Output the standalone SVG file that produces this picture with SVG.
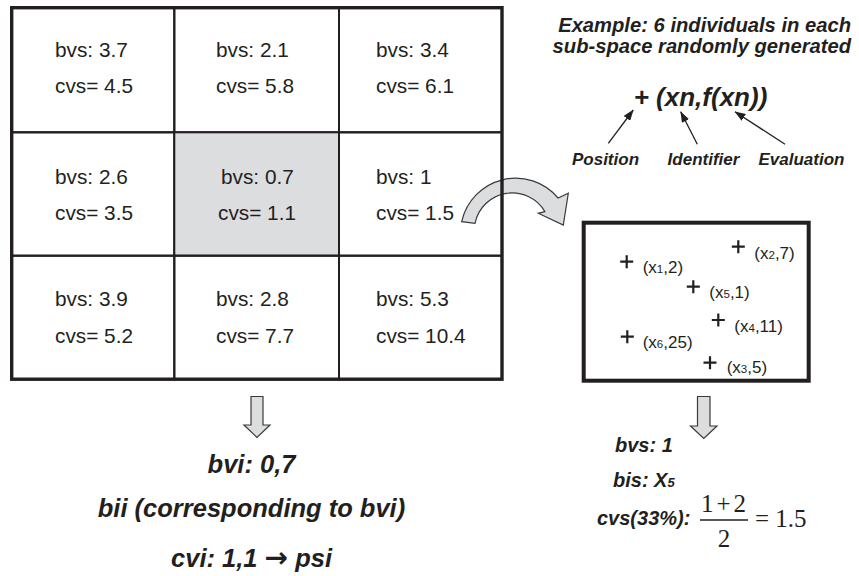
<svg xmlns="http://www.w3.org/2000/svg" width="859" height="576" viewBox="0 0 859 576">
<style>
text{font-family:"Liberation Sans",Arial,Helvetica,sans-serif;fill:#231f20}
.cv{font-size:20.8px}
.bi{font-weight:bold;font-style:italic}
.cell{fill:none;stroke:#231f20;stroke-width:2}
.gray{fill:#dcdddf}
.thin{fill:none;stroke:#231f20;stroke-width:1.3}
.blk{fill:#dcdddf;stroke:#3a3a3a;stroke-width:1.2;stroke-linejoin:miter}
.pl{fill:none;stroke:#231f20;stroke-width:2.2}
.pt{font-size:17px}
.serif{font-family:"Liberation Serif","Times New Roman",serif;font-size:25px}
</style>
<defs>
<marker id="ah" markerUnits="userSpaceOnUse" markerWidth="11" markerHeight="8" refX="10.5" refY="4" orient="auto">
<path d="M0,0 L11,4 L0,8 z" fill="#231f20"/>
</marker>
<path id="plus" d="M-6.5,0 H6.5 M0,-6.5 V6.5" class="pl"/>
</defs>
<rect width="859" height="576" fill="#fff"/>

<g id="connectors">
<path id="curved-arrow" class="blk" d="M461.7,221.7 A55.2,55.2 0 0 1 558,198 L568.3,193.3 L563.3,225 L538.3,213.3 L545,211.7 A38,38 0 0 0 475,223.3 Z"/>
<path id="down-left" class="blk" d="M251,396.5 H263 V425 H270 L257,437.5 L244,425 H251 Z"/>
<path id="down-right" class="blk" d="M697.5,396.5 H710 V426 H717 L703.8,438.5 L690.5,426 H697.5 Z"/>
<line class="thin" x1="608.3" y1="143.3" x2="633.3" y2="110" marker-end="url(#ah)"/>
<line class="thin" x1="697.3" y1="144.3" x2="680.7" y2="111.7" marker-end="url(#ah)"/>
<line class="thin" x1="785" y1="144.3" x2="735" y2="111.7" marker-end="url(#ah)"/>
</g>

<g id="grid">
<g id="cell-1-1"><rect class="cell" x="11.7" y="7.7" width="162.6" height="124.6"/><text class="cv" x="55" y="57">bvs: 3.7</text><text class="cv" x="55" y="93.3">cvs= 4.5</text></g>
<g id="cell-1-2"><rect class="cell" x="174.3" y="7.7" width="164.7" height="124.6"/><text class="cv" x="216" y="57">bvs: 2.1</text><text class="cv" x="216" y="93.3">cvs= 5.8</text></g>
<g id="cell-1-3"><rect class="cell" x="339" y="7.7" width="163" height="124.6"/><text class="cv" x="376" y="57">bvs: 3.4</text><text class="cv" x="376" y="93.3">cvs= 6.1</text></g>
<g id="cell-2-1"><rect class="cell" x="11.7" y="132.3" width="162.6" height="123.4"/><text class="cv" x="55" y="183.5">bvs: 2.6</text><text class="cv" x="55" y="220">cvs= 3.5</text></g>
<g id="cell-2-2"><rect class="cell gray" x="174.3" y="132.3" width="164.7" height="123.4"/><text class="cv" x="221" y="183.5">bvs: 0.7</text><text class="cv" x="218" y="220">cvs= 1.1</text></g>
<g id="cell-2-3"><rect class="cell" x="339" y="132.3" width="163" height="123.4"/><text class="cv" x="376" y="183.5">bvs: 1</text><text class="cv" x="376" y="220">cvs= 1.5</text></g>
<g id="cell-3-1"><rect class="cell" x="11.7" y="255.7" width="162.6" height="123.5"/><text class="cv" x="55" y="306">bvs: 3.9</text><text class="cv" x="55" y="343.3">cvs= 5.2</text></g>
<g id="cell-3-2"><rect class="cell" x="174.3" y="255.7" width="164.7" height="123.5"/><text class="cv" x="216" y="306">bvs: 2.8</text><text class="cv" x="216" y="343.3">cvs= 7.7</text></g>
<g id="cell-3-3"><rect class="cell" x="339" y="255.7" width="163" height="123.5"/><text class="cv" x="376" y="306">bvs: 5.3</text><text class="cv" x="376" y="343.3">cvs= 10.4</text></g>
<rect x="11.7" y="7.7" width="490.3" height="371.5" fill="none" stroke="#231f20" stroke-width="3.4"/>
</g>

<g id="legend">
<text class="bi" x="851" y="31.7" font-size="20.2" text-anchor="end">Example: 6 individuals in each</text>
<text class="bi" x="851" y="53.3" font-size="20.2" text-anchor="end">sub-space randomly generated</text>
<text class="bi" x="700.5" y="106" font-size="26" text-anchor="middle">+ (xn,f(xn))</text>
<text class="bi" x="605.5" y="165" font-size="17" text-anchor="middle">Position</text>
<text class="bi" x="703.5" y="165" font-size="17" text-anchor="middle">Identifier</text>
<text class="bi" x="801.5" y="165" font-size="17" text-anchor="middle">Evaluation</text>
</g>

<g id="sample-box">
<rect x="583.7" y="222.7" width="225" height="158" fill="none" stroke="#231f20" stroke-width="4"/>
<use href="#plus" x="626.7" y="261.7"/><text class="pt" x="642.7" y="272.7">(x<tspan font-size="11.5">1</tspan>,2)</text>
<use href="#plus" x="738.3" y="246.7"/><text class="pt" x="754.3" y="258.7">(x<tspan font-size="11.5">2</tspan>,7)</text>
<use href="#plus" x="693.3" y="286.7"/><text class="pt" x="709.3" y="298">(x<tspan font-size="11.5">5</tspan>,1)</text>
<use href="#plus" x="718.3" y="320"/><text class="pt" x="734.3" y="331.7">(x<tspan font-size="11.5">4</tspan>,11)</text>
<use href="#plus" x="627.3" y="336.7"/><text class="pt" x="642.7" y="347.7">(x<tspan font-size="11.5">6</tspan>,25)</text>
<use href="#plus" x="710" y="362.7"/><text class="pt" x="726.7" y="372.7">(x<tspan font-size="11.5">3</tspan>,5)</text>
</g>

<g id="result-right">
<text class="bi" x="615" y="451.7" font-size="20">bvs: 1</text>
<text class="bi" x="613" y="487.3" font-size="20">bis: X<tspan font-size="13">5</tspan></text>
<text class="bi" x="597" y="525" font-size="20">cvs(33%):</text>
<text class="serif" x="701" y="511.7" letter-spacing="3">1+2</text>
<line x1="700" y1="520" x2="748" y2="520" stroke="#231f20" stroke-width="1.3"/>
<text class="serif" x="724" y="546.7" text-anchor="middle">2</text>
<text class="serif" x="755" y="526.7">= 1.5</text>
</g>

<g id="result-left">
<text class="bi" x="251.5" y="472.7" font-size="25.5" text-anchor="middle">bvi: 0,7</text>
<text class="bi" x="251.5" y="516.7" font-size="25.5" text-anchor="middle">bii (corresponding to bvi)</text>
<text class="bi" x="251.5" y="566.7" font-size="25.5" text-anchor="middle">cvi: 1,1 <tspan font-family="'DejaVu Sans',sans-serif" font-size="28" font-style="normal">→</tspan> psi</text>
</g>
</svg>
